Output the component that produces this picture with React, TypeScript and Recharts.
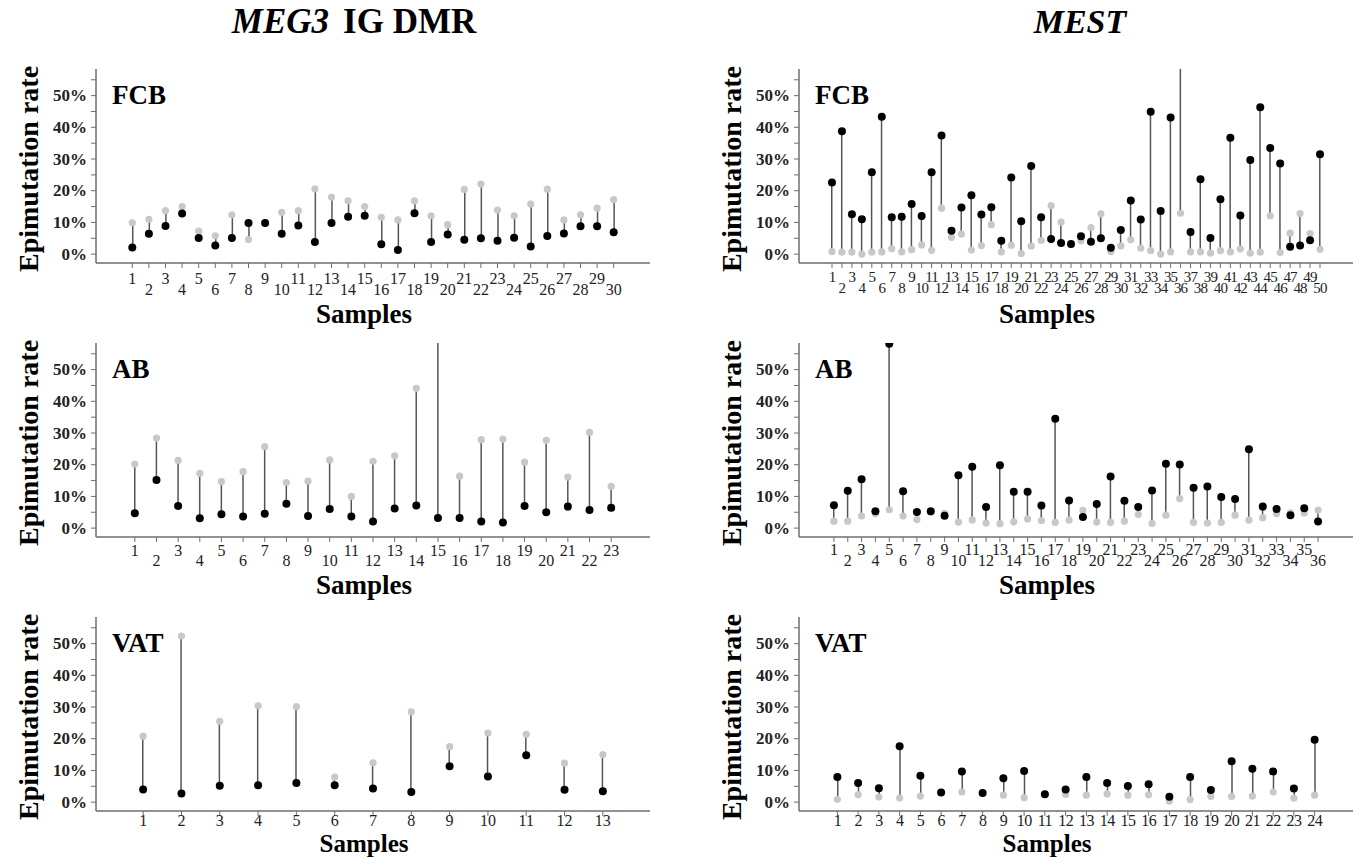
import { Bar, ComposedChart, Line, XAxis, YAxis } from "recharts";

const FONT = "'Liberation Serif', 'DejaVu Serif', 'Times New Roman', Times, serif";
const FRAME = "#6e6e6e";
const DARK = "#000000";
const LIGHT = "#c8c8c8";
const STEM = "#555555";

// MEG3 IG DMR
const MEG3_FCB_DARK = [2.1, 6.4, 8.9, 12.8, 5.1, 2.7, 5.1, 9.8, 9.8, 6.4, 9.0, 3.8, 9.8, 11.8, 12.1, 3.1, 1.3, 12.9, 3.8, 6.2, 4.5, 5.0, 4.2, 5.2, 2.4, 5.7, 6.5, 8.8, 8.8, 6.9];
const MEG3_FCB_LIGHT = [9.9, 11.0, 13.7, 15.0, 7.3, 5.8, 12.4, 4.6, 9.9, 13.2, 13.7, 20.6, 18.0, 16.8, 15.0, 11.6, 10.8, 16.8, 12.1, 9.3, 20.4, 22.1, 13.9, 12.1, 15.8, 20.5, 10.8, 12.4, 14.5, 17.2];

const MEG3_AB_DARK = [4.7, 15.2, 7.0, 3.1, 4.4, 3.7, 4.5, 7.7, 3.8, 6.0, 3.7, 2.1, 6.2, 7.1, 3.2, 3.2, 2.1, 1.8, 7.0, 5.0, 6.8, 5.7, 6.4];
const MEG3_AB_LIGHT = [20.2, 28.4, 21.4, 17.3, 14.7, 17.8, 25.7, 14.4, 14.8, 21.5, 10.0, 21.1, 22.8, 44.1, 70, 16.4, 27.9, 28.1, 20.8, 27.7, 16.1, 30.2, 13.2];

const MEG3_VAT_DARK = [4.0, 2.7, 5.2, 5.3, 6.0, 5.3, 4.3, 3.2, 11.3, 8.1, 14.8, 3.9, 3.4];
const MEG3_VAT_LIGHT = [20.8, 52.4, 25.5, 30.4, 30.1, 7.9, 12.4, 28.5, 17.5, 21.8, 21.4, 12.3, 15.0];

// MEST
const MEST_FCB_DARK = [22.6, 38.8, 12.6, 11.0, 25.8, 43.3, 11.6, 11.8, 15.8, 12.0, 25.8, 37.4, 7.4, 14.7, 18.6, 12.5, 14.8, 4.2, 24.2, 10.4, 27.8, 11.6, 4.8, 3.5, 3.2, 5.6, 3.9, 5.0, 2.0, 7.6, 16.9, 10.9, 44.9, 13.6, 43.1, 70, 7.0, 23.6, 5.1, 17.3, 36.7, 12.2, 29.7, 46.3, 33.5, 28.6, 2.3, 2.7, 4.4, 31.5];
const MEST_FCB_LIGHT = [0.8, 0.6, 0.6, 0.0, 0.6, 0.7, 1.7, 0.7, 1.4, 2.9, 1.2, 14.5, 5.3, 6.3, 1.3, 2.7, 9.3, 0.7, 2.8, 0.2, 2.5, 4.3, 15.3, 10.1, 3.0, 4.2, 8.4, 12.7, 0.8, 2.6, 4.5, 1.9, 1.1, 0.0, 0.7, 12.9, 0.7, 0.7, 0.3, 1.1, 0.7, 1.6, 0.3, 0.6, 12.1, 0.5, 6.6, 12.8, 6.5, 1.5];

const MEST_AB_DARK = [7.2, 11.8, 15.4, 5.3, 58.2, 11.6, 5.1, 5.3, 3.9, 16.7, 19.4, 6.7, 19.8, 11.5, 11.5, 7.1, 34.5, 8.7, 3.5, 7.6, 16.3, 8.6, 6.7, 11.9, 20.3, 20.1, 12.7, 13.1, 9.8, 9.2, 24.9, 6.8, 6.0, 4.1, 6.3, 2.1];
const MEST_AB_LIGHT = [2.2, 2.2, 3.8, 4.5, 5.8, 3.8, 2.7, 5.0, 4.7, 1.9, 2.6, 1.6, 1.4, 2.0, 2.9, 2.4, 1.8, 2.5, 5.6, 1.9, 1.8, 2.2, 4.3, 1.5, 4.1, 9.3, 1.8, 1.6, 1.8, 4.1, 2.5, 3.3, 4.6, 4.8, 4.8, 5.7];

const MEST_VAT_DARK = [7.9, 6.0, 4.4, 17.6, 8.3, 3.0, 9.7, 2.9, 7.5, 9.8, 2.5, 4.0, 7.9, 6.0, 5.1, 5.6, 1.7, 7.9, 3.8, 12.9, 10.5, 9.7, 4.3, 19.7];
const MEST_VAT_LIGHT = [0.9, 2.3, 1.6, 1.3, 1.9, 3.0, 3.2, 2.9, 2.2, 1.4, 2.5, 2.4, 2.2, 2.6, 2.2, 2.3, 0.3, 0.8, 1.8, 1.8, 1.9, 3.2, 1.3, 2.2];

const Y_TICKS = [0, 5, 10, 15, 20, 25, 30, 35, 40, 45, 50, 55];
const Y_DOMAIN = [-2.8, 58.4];

const ROW_TOP = [69, 343, 617];
const PLOT_H = 194;
const COL_LEFT = [0, 700];
const PLOT_X = [96, 799];
const PLOT_W = 554;
const Y_AXIS_W = 50;
const X_AXIS_H = 60;

function makeRows(dark: number[], light: number[]) {
  return dark.map((d, i) => ({
    id: String(i + 1),
    dark: d,
    light: light[i],
    stem: [Math.min(d, light[i]), Math.max(d, light[i])],
  }));
}

function SampleTick(props: any) {
  const { x, y, payload, index, twoRows, rowDy, fontSize, squeeze } = props;
  const lower = twoRows && index % 2 === 1;
  return (
    <text
      x={x}
      y={y + (lower ? rowDy[1] : rowDy[0])}
      textAnchor="middle"
      fontSize={fontSize}
      letterSpacing={squeeze}
      style={{ fontFamily: FONT }}
      fill="#222"
    >
      {payload.value}
    </text>
  );
}

function RateTick(props: any) {
  const { x, y, payload } = props;
  if (payload.value % 10 !== 0) return <g />;
  return (
    <text x={x} y={y + 5.5} textAnchor="end" fontSize={17} fontWeight="bold" style={{ fontFamily: FONT }} fill="#222">
      {payload.value}%
    </text>
  );
}

interface PanelProps {
  row: number;
  col: number;
  dark: number[];
  light: number[];
  twoRows?: boolean;
  rowDy?: number[];
  fontSize?: number;
  squeeze?: number;
}

function Panel({ row, col, dark, light, twoRows = true, rowDy = [13, 24], fontSize = 16, squeeze = 0 }: PanelProps) {
  const data = makeRows(dark, light);
  const left = COL_LEFT[col];
  const ml = PLOT_X[col] - left - Y_AXIS_W;
  const width = ml + Y_AXIS_W + PLOT_W + 4;
  const axisLine = { stroke: FRAME, strokeWidth: 1.5 };
  return (
    <div style={{ position: "absolute", left, top: ROW_TOP[row] - 10 }}>
      <ComposedChart
        width={width}
        height={10 + PLOT_H + X_AXIS_H}
        data={data}
        margin={{ top: 10, right: 4, bottom: 0, left: ml }}
      >
        <XAxis
          dataKey="id"
          height={X_AXIS_H}
          interval={0}
          padding={{ left: 28, right: 28 }}
          tickSize={5}
          tickMargin={0}
          axisLine={axisLine}
          tickLine={{ stroke: FRAME }}
          tick={(p: any) => (
            <SampleTick {...p} twoRows={twoRows} rowDy={rowDy} fontSize={fontSize} squeeze={squeeze} />
          )}
        />
        <XAxis xAxisId="top" dataKey="id" orientation="top" height={0} tick={false} tickLine={false} axisLine={axisLine} />
        <YAxis
          type="number"
          domain={Y_DOMAIN}
          allowDataOverflow
          ticks={Y_TICKS}
          interval={0}
          width={Y_AXIS_W}
          tickSize={5}
          tickMargin={4}
          axisLine={axisLine}
          tickLine={{ stroke: FRAME }}
          tick={<RateTick />}
        />
        <YAxis yAxisId="r" orientation="right" type="number" domain={[0, 1]} width={0} tick={false} tickLine={false} axisLine={axisLine} />
        <Line dataKey="light" stroke="none" dot={{ r: 3.6, fill: LIGHT, stroke: "none" }} activeDot={false} isAnimationActive={false} />
        <Bar dataKey="stem" barSize={1.5} fill={STEM} isAnimationActive={false} />
        <Line dataKey="dark" stroke="none" dot={{ r: 4, fill: DARK, stroke: "none" }} activeDot={false} isAnimationActive={false} />
      </ComposedChart>
    </div>
  );
}

const PANEL_LABELS = ["FCB", "AB", "VAT"];
const SAMPLES_X = [364, 1047];
const SAMPLES_Y = [323, 594, 852];
const SAMPLES_SIZE = [27, 27, 25];
const YLABEL_X = [28, 731];

export default function App() {
  return (
    <div style={{ position: "absolute", left: 0, top: 0, width: 1357, height: 858, background: "#fff", fontFamily: FONT }}>
      <Panel row={0} col={0} dark={MEG3_FCB_DARK} light={MEG3_FCB_LIGHT} rowDy={[16, 27]} />
      <Panel row={1} col={0} dark={MEG3_AB_DARK} light={MEG3_AB_LIGHT} rowDy={[14, 24]} />
      <Panel row={2} col={0} dark={MEG3_VAT_DARK} light={MEG3_VAT_LIGHT} twoRows={false} rowDy={[10, 10]} />
      <Panel row={0} col={1} dark={MEST_FCB_DARK} light={MEST_FCB_LIGHT} rowDy={[14, 25]} fontSize={15} squeeze={-0.8} />
      <Panel row={1} col={1} dark={MEST_AB_DARK} light={MEST_AB_LIGHT} rowDy={[13, 24]} />
      <Panel row={2} col={1} dark={MEST_VAT_DARK} light={MEST_VAT_LIGHT} twoRows={false} rowDy={[10, 10]} squeeze={-0.5} />
      <svg width={1357} height={858} style={{ position: "absolute", left: 0, top: 0, pointerEvents: "none", fontFamily: FONT }}>
        <text x={354} y={33} textAnchor="middle" fontSize={35} fontWeight="bold" fill="#000">
          <tspan fontStyle="italic">MEG3</tspan>
          <tspan dx={14}>IG DMR</tspan>
        </text>
        <text x={1080} y={33} textAnchor="middle" fontSize={34} fontWeight="bold" fontStyle="italic" fill="#000">
          MEST
        </text>
        {ROW_TOP.map((top, r) =>
          [0, 1].map((c) => (
            <g key={`${r}-${c}`}>
              <text x={PLOT_X[c] + 16} y={top + 35} fontSize={27} fontWeight="bold" fill="#000">
                {PANEL_LABELS[r]}
              </text>
              <text
                x={YLABEL_X[c]}
                y={top + PLOT_H / 2 + 3}
                transform={`rotate(-90 ${YLABEL_X[c]} ${top + PLOT_H / 2 + 3})`}
                textAnchor="middle"
                dominantBaseline="central"
                fontSize={28}
                fontWeight="bold"
                fill="#000"
              >
                Epimutation rate
              </text>
              <text
                x={SAMPLES_X[c]}
                y={SAMPLES_Y[r]}
                textAnchor="middle"
                fontSize={SAMPLES_SIZE[r]}
                fontWeight="bold"
                fill="#000"
              >
                Samples
              </text>
            </g>
          ))
        )}
      </svg>
    </div>
  );
}
